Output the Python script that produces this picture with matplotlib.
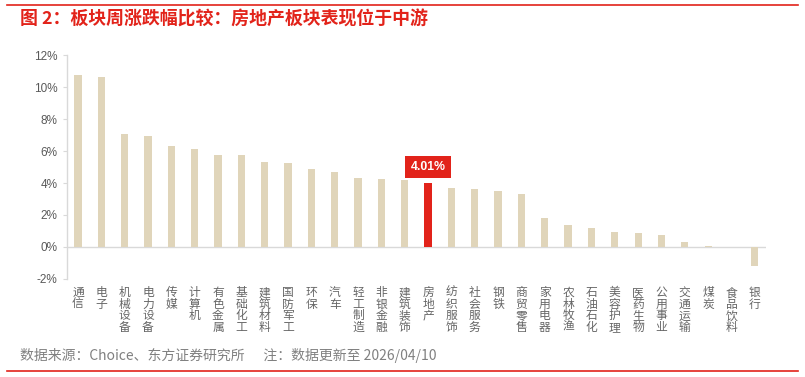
import matplotlib
matplotlib.use("Agg")
import matplotlib.pyplot as plt
from matplotlib.ticker import FuncFormatter

plt.rcParams['font.family'] = ['Liberation Sans', 'Noto Sans CJK SC']
cjk = ['Noto Sans CJK SC', 'DejaVu Sans']

# 板块周涨跌幅（%）
sectors = ["通信", "电子", "机械设备", "电力设备", "传媒", "计算机", "有色金属", "基础化工",
           "建筑材料", "国防军工", "环保", "汽车", "轻工制造", "非银金融", "建筑装饰", "房地产",
           "纺织服饰", "社会服务", "钢铁", "商贸零售", "家用电器", "农林牧渔", "石油石化", "美容护理",
           "医药生物", "公用事业", "交通运输", "煤炭", "食品饮料", "银行"]
returns = [10.73, 10.62, 7.06, 6.94, 6.29, 6.15, 5.73, 5.73,
           5.33, 5.23, 4.86, 4.71, 4.33, 4.25, 4.19, 4.01,
           3.66, 3.60, 3.50, 3.29, 1.83, 1.37, 1.18, 0.95,
           0.89, 0.72, 0.33, 0.08, -0.02, -1.17]
highlight = "房地产"

beige = "#E0D5BA"
red = "#E2231A"
gray = "#595959"

fig = plt.figure(figsize=(8.05, 3.77), dpi=100)
ax = fig.add_axes([0.0832, 0.26, 0.8684, 0.594])

colors = [red if s == highlight else beige for s in sectors]
x = list(range(len(sectors)))
ax.bar(x, returns, width=0.31, color=colors, zorder=2)

hi = sectors.index(highlight)
ax.text(hi, returns[hi] + 1.0, f"{returns[hi]:.2f}%", ha="center", va="center",
        color="white", fontsize=8.8, fontweight="bold",
        bbox=dict(boxstyle="square,pad=0.42", fc=red, ec="none"))

ax.set_xlim(-0.47, 29.48)
ax.set_ylim(-2, 12)
ax.set_yticks(range(-2, 13, 2))
ax.yaxis.set_major_formatter(FuncFormatter(lambda v, p: f"{v:.0f}%"))
ax.axhline(0, color="#D9D9D9", lw=1.0, zorder=1)

ax.set_xticks(x)
ax.set_xticklabels(["\n".join(s) for s in sectors], va="top", linespacing=0.95)
ax.tick_params(axis="x", length=0, pad=6, labelsize=8.5, labelcolor="#666666")
ax.tick_params(axis="y", length=3, width=0.8, color="#D9D9D9", pad=4,
               labelsize=8.5, labelcolor=gray)

for side in ["top", "right", "bottom"]:
    ax.spines[side].set_visible(False)
ax.spines["left"].set_color("#D9D9D9")
ax.spines["left"].set_linewidth(1.0)

fig.text(0.025, 0.948, "图 2：板块周涨跌幅比较：房地产板块表现位于中游", color=red,
         fontsize=12.9, fontweight="bold", va="center", family=cjk)
fig.text(0.025, 0.058, "数据来源：Choice、东方证券研究所      注：数据更新至 2026/04/10",
         color="#808080", fontsize=10, va="center", family=cjk)
fig.add_artist(plt.Line2D([0.009, 0.991], [0.987, 0.987], color=red, lw=1.2))
fig.add_artist(plt.Line2D([0.009, 0.991], [0.016, 0.016], color=red, lw=1.2))

plt.savefig("out.png", dpi=100)
